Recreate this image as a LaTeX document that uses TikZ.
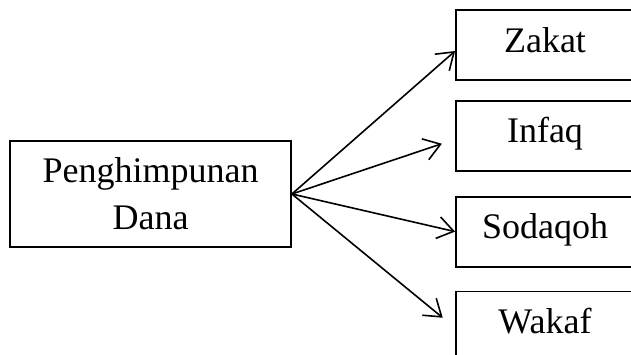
\documentclass[tikz,border=0pt]{standalone}
\usepackage{fontspec}
\setmainfont{Liberation Serif}
\usetikzlibrary{positioning, arrows.meta}

\tikzset{
    kotak/.style={draw, line width=1.8pt, minimum width=178pt, minimum height=70pt, inner sep=0pt,
        text height=24pt, text depth=10pt},
    panah/.style={line width=1.6pt, -{Straight Barb[length=16pt, width=22pt, line width=1.6pt]}}
}

\begin{document}
\begin{tikzpicture}[x=1pt, y=-1pt, node distance=20pt, font=\fontsize{36}{47}\selectfont]
        \useasboundingbox (0,0) rectangle (631,354);
        \clip (0,0) rectangle (631,354);

        \node (dana) [draw, line width=1.8pt, minimum width=281pt, minimum height=106pt, align=center]
                at (150.5,194)              {Penghimpunan\\Dana};
        \node (zakat)   [kotak] at (545,45)  {Zakat};
        \node (infaq)   [kotak, below=19pt of zakat]   {Infaq};
        \node (sodaqoh) [kotak, below=24pt of infaq]   {Sodaqoh};
        \node (wakaf)   [kotak, below=23pt of sodaqoh] {Wakaf};

        \draw[panah] (dana.east) -- ([yshift=-6pt]zakat.west);
        \draw[panah, shorten >=14pt] (dana.east) -- ([yshift=-3.5pt]infaq.west);
        \draw[panah] (dana.east) -- (sodaqoh.west);
        \draw[panah, shorten >=16pt] (dana.east) -- ([yshift=-1.5pt]wakaf.west);
    \end{tikzpicture}
\end{document}
